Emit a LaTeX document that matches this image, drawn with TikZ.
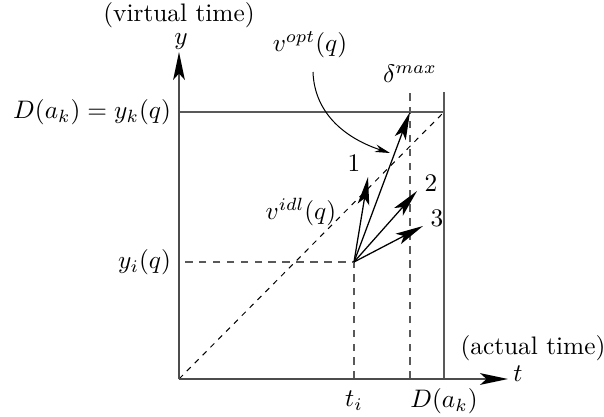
\documentclass[tikz,border=0pt]{standalone}
\usepackage{amsmath}
\usetikzlibrary{arrows.meta,positioning}
\begin{document}
\begin{tikzpicture}[
  x=0.395pt, y=0.395pt,
  axis/.style={draw=black!70,line width=0.8pt,-{Stealth[length=11pt,width=4.6pt,inset=2.5pt,color=black]}},
  frame/.style={draw=black!65,line width=0.6pt},
  guide/.style={draw=black!65,line width=0.6pt,dash pattern=on 3pt off 2.5pt},
  diag/.style={draw=black,line width=0.4pt,dash pattern=on 2.2pt off 2.2pt},
  vec/.style={-{Stealth[length=11pt,width=4.6pt,inset=2.5pt]},line width=0.5pt},
  lbl/.style={inner sep=1pt}
]
\useasboundingbox (-179,-37) rectangle (425,379);
% key points
\coordinate (O) at (0,0);
\coordinate (tend) at (329,0);
\coordinate (yend) at (0,327);
\coordinate (Dt) at (265,0);
\coordinate (Dtop) at (265,287);
\coordinate (Dy) at (0,267);
\coordinate (corner) at (265,267);
\coordinate (dt) at (231,0);
\coordinate (dtop) at (231,287);
\coordinate (dhit) at (231,267);
\coordinate (ti) at (175,0);
\coordinate (yi) at (0,117);
\coordinate (P) at (175,117);
\coordinate (v1) at (189,202);
\coordinate (v2) at (238,188);
\coordinate (v3) at (244,153);
% frame and guides
\draw[frame] (Dy) -- (corner);
\draw[frame] (Dt) -- (Dtop);
\draw[guide] (dt) -- (dtop);
\draw[guide] (ti) -- (P) -- (yi);
\draw[diag] (O) -- (corner);
% axes
\draw[axis] (O) -- (tend);
\draw[axis] (O) -- (yend);
% velocity vectors
\draw[vec] (P) -- (dhit);
\draw[vec] (P) -- (v1);
\draw[vec] (P) -- (v2);
\draw[vec] (P) -- (v3);
% labels
\node[lbl] (vt) at (0,364) {(virtual time)};
\node[lbl] (ylab) at (2,337) {$y$};
\node[lbl,anchor=east] (Dylab) at (-5,267) {$D(a_k) = y_k(q)$};
\node[lbl,anchor=east] (yilab) at (-5,117) {$y_i(q)$};
\node[lbl] (tilab) at (175,-22) {$t_i$};
\node[lbl] (Dtlab) at (265,-22) {$D(a_k)$};
\node[lbl] (tlab) at (339,5) {$t$};
\node[lbl] (at) at (354,31) {(actual time)};
\node[lbl] (dmax) at (231,305) {$\delta^{max}$};
\node[lbl] (vopt) at (131,334) {$v^{opt}(q)$};
\node[lbl] (vidl) at (122,167) {$v^{idl}(q)$};
\node[lbl] (n1) at (175,216) {$1$};
\node[lbl] (n2) at (252,196) {$2$};
\node[lbl] (n3) at (258,161) {$3$};
% pointer to optimal vector
\coordinate (pt) at (211,226);
\draw[-{Stealth[length=6pt,width=3pt]},line width=0.4pt] (134,307) to[out=-88,in=162] (pt);
\end{tikzpicture}
\end{document}
